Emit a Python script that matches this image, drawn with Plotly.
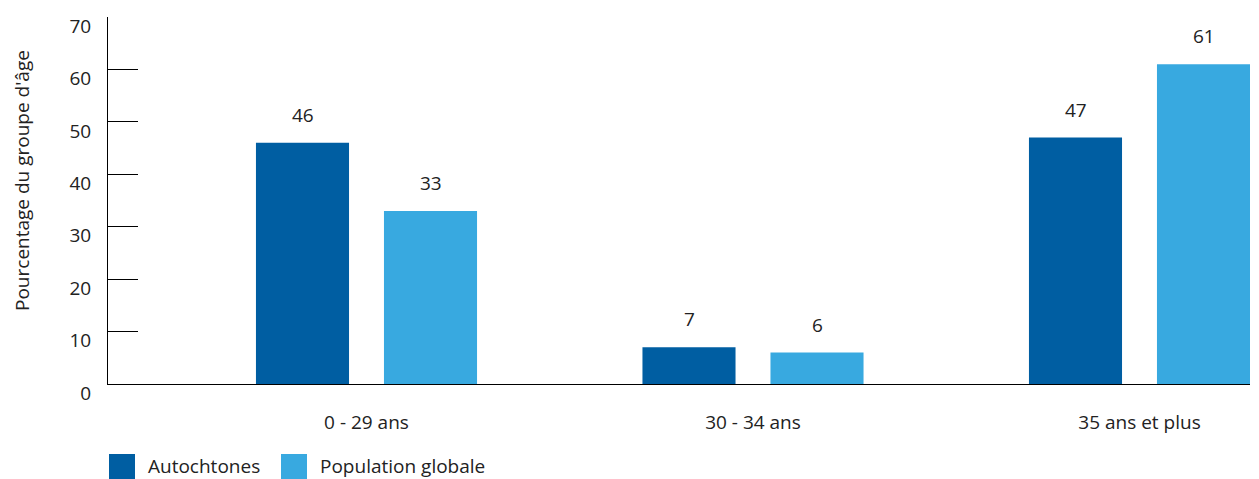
import plotly.graph_objects as go

categories = ["0 - 29 ans", "30 - 34 ans", "35 ans et plus"]
autochtones = [46, 7, 47]
population_globale = [33, 6, 61]
series_names = ["Autochtones", "Population globale"]
y_ticks = [0, 10, 20, 30, 40, 50, 60, 70]

DARK = "#005EA2"
LIGHT = "#38A9E0"
FONT = "Open Sans"
TXT = "#222222"
FS = 19

W, H = 1259, 479
ML, MR, MT, MB = 108, 9, 17, 95
PW, PH = W - ML - MR, H - MT - MB


def px2x(px):
    return (px - ML) / PW


def py2y(py):
    return (H - MB - py) / PH


fig = go.Figure()
for name, vals, col in [(series_names[0], autochtones, DARK), (series_names[1], population_globale, LIGHT)]:
    fig.add_trace(go.Bar(x=list(range(len(categories))), y=vals, name=name,
                         marker=dict(color=col, line=dict(width=0)), showlegend=False))

annotations = []
for vals, shift in [(autochtones, -64), (population_globale, 64)]:
    for i, v in enumerate(vals):
        annotations.append(dict(x=i, y=v, xref="x", yref="y", text=str(v), showarrow=False,
                                xshift=shift, yshift=28, yanchor="middle",
                                font=dict(family=FONT, size=FS, color=TXT)))

annotations.append(dict(x=px2x(22), y=py2y(181), xref="paper", yref="paper",
                        text="Pourcentage du groupe d'âge", textangle=-90, showarrow=False,
                        xanchor="center", yanchor="middle",
                        font=dict(family=FONT, size=FS, color=TXT)))

# legend
shapes = []
legend_items = [(series_names[0], DARK, 109, 146), (series_names[1], LIGHT, 281, 318)]
for name, col, sx, tx in legend_items:
    shapes.append(dict(type="rect", xref="paper", yref="paper",
                       x0=px2x(sx), x1=px2x(sx + 26), y0=py2y(479), y1=py2y(454),
                       fillcolor=col, line=dict(width=0)))
    annotations.append(dict(x=px2x(tx), y=py2y(466), xref="paper", yref="paper",
                            text=name, showarrow=False, xanchor="left", yanchor="middle",
                            font=dict(family=FONT, size=FS, color=TXT)))

fig.update_layout(
    width=W, height=H,
    margin=dict(l=ML, r=MR, t=MT, b=MB, pad=0),
    paper_bgcolor="white", plot_bgcolor="white",
    barmode="group", bargap=0.3376, bargroupgap=0.273,
    font=dict(family=FONT, size=FS, color=TXT),
    annotations=annotations, shapes=shapes,
    showlegend=False,
)
fig.update_xaxes(
    range=[(ML - 366.5) / 386.5, (W - MR - 366.5) / 386.5],
    tickmode="array", tickvals=list(range(len(categories))), ticktext=categories,
    showline=True, linecolor="black", linewidth=1,
    showgrid=False, zeroline=False, ticks="", ticklabelstandoff=21,
    tickfont=dict(family=FONT, size=FS, color=TXT),
)
fig.update_yaxes(
    range=[0, 70], tickmode="array", tickvals=y_ticks,
    showline=True, linecolor="black", linewidth=1,
    showgrid=False, zeroline=False,
    ticks="inside", ticklen=30, tickcolor="black", tickwidth=1,
    ticklabelshift=9, ticklabelstandoff=12,
    tickfont=dict(family=FONT, size=FS, color=TXT),
)

fig.write_html("out.html")
